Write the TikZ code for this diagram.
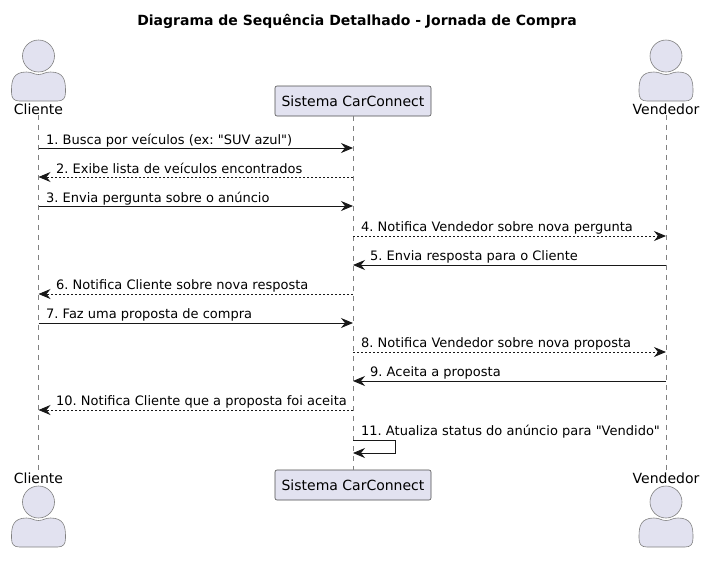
\documentclass[tikz,border=0pt]{standalone}
\usepackage{fontspec}
\setmainfont{DejaVu Sans}
\newfontfamily\msgfont{DejaVu Sans}
\usetikzlibrary{arrows.meta}
\definecolor{actorfill}{HTML}{E2E2F0}
\definecolor{ink}{HTML}{181818}
\frenchspacing
\begin{document}
\begin{tikzpicture}[x=1pt,y=-1pt,
    main/.style = {draw=gray!60!black, line width=0.6pt, fill=actorfill, rounded corners=2pt, minimum width=156pt, minimum height=30pt, inner sep=0pt, font=\fontsize{14}{16}\selectfont},
    who/.style = {inner sep=0pt, text height=10.5pt, text depth=0pt, font=\fontsize{14}{16}\selectfont},
    msg/.style = {anchor=base west, inner sep=0pt, font=\msgfont\fontsize{13}{15}\selectfont},
    life/.style = {draw=gray, line width=0.5pt, dash pattern=on 5pt off 5pt},
    call/.style = {draw=ink, line width=0.9pt, -{Stealth[length=12pt,width=10pt,inset=4pt]}},
    back/.style = {call, dash pattern=on 2pt off 2pt},
    person/.pic = {
        \draw[draw=gray, line width=0.6pt, fill=actorfill] (0,-16) circle (16);
        \draw[draw=gray, line width=0.6pt, fill=actorfill] (-27,18) .. controls (-27,8) and (-25,0) .. (-12,0) .. controls (-6,0) and (-5,2.5) .. (0,2.5) .. controls (5,2.5) and (6,0) .. (12,0) .. controls (25,0) and (27,8) .. (27,18) -- (27,20) .. controls (27,26) and (25,29) .. (19,29) -- (-19,29) .. controls (-25,29) and (-27,26) .. (-27,20) -- cycle;
    }]
    \useasboundingbox (0,0) rectangle (710,563);
    \node[font=\bfseries\fontsize{14}{16}\selectfont, inner sep=0pt] (title) at (357,21) {Diagrama de Sequência Detalhado - Jornada de Compra};

    % participants, top row
    \pic at (38.5,72) {person};
    \pic at (666,72) {person};
    \node[who] (cliente) at (38.5,109.5) {Cliente};
    \node[main] (sistema) at (353,101) {Sistema CarConnect};
    \node[who] (vendedor) at (666,109.5) {Vendedor};

    % participants, bottom row
    \pic at (38.5,518) {person};
    \pic at (666,518) {person};
    \node[who] (clientefim) at (38.5,478.5) {Cliente};
    \node[main] (sistemafim) at (353,485) {Sistema CarConnect};
    \node[who] (vendedorfim) at (666,478.5) {Vendedor};

    \draw[life] (cliente) -- (clientefim);
    \draw[life] (sistema) -- (sistemafim);
    \draw[life] (vendedor) -- (vendedorfim);

    % one coordinate on each lifeline per message
    \foreach \i/\y in {1/148,2/177,3/206,4/236,5/265,6/294,7/323,8/352,9/381,10/410,11/440} {
        \coordinate (c\i) at (38.5,\y);
        \coordinate (s\i) at (353,\y);
        \coordinate (v\i) at (666,\y);
    }
    \coordinate (s11a) at (395,440);
    \coordinate (s11b) at (395,453);
    \coordinate (s11c) at (353,453);

    \draw[call] (c1) -- (s1);
    \draw[back] (s2) -- (c2);
    \draw[call] (c3) -- (s3);
    \draw[back] (s4) -- (v4);
    \draw[call] (v5) -- (s5);
    \draw[back] (s6) -- (c6);
    \draw[call] (c7) -- (s7);
    \draw[back] (s8) -- (v8);
    \draw[call] (v9) -- (s9);
    \draw[back] (s10) -- (c10);
    \draw[call] (s11) -- (s11a) -- (s11b) -- (s11c);

    \node[msg] (m1) at (46,144) {1. Busca por veículos (ex: "SUV azul")};
    \node[msg] (m2) at (56,173) {2. Exibe lista de veículos encontrados};
    \node[msg] (m3) at (46,202) {3. Envia pergunta sobre o anúncio};
    \node[msg] (m4) at (361,231.5) {4. Notifica Vendedor sobre nova pergunta};
    \node[msg] (m5) at (370,260.5) {5. Envia resposta para o Cliente};
    \node[msg] (m6) at (56,289.5) {6. Notifica Cliente sobre nova resposta};
    \node[msg] (m7) at (46,318.5) {7. Faz uma proposta de compra};
    \node[msg] (m8) at (361,347.5) {8. Notifica Vendedor sobre nova proposta};
    \node[msg] (m9) at (370,376.5) {9. Aceita a proposta};
    \node[msg] (m10) at (56,405.5) {10. Notifica Cliente que a proposta foi aceita};
    \node[msg] (m11) at (361,435) {11. Atualiza status do anúncio para "Vendido"};
\end{tikzpicture}
\end{document}
